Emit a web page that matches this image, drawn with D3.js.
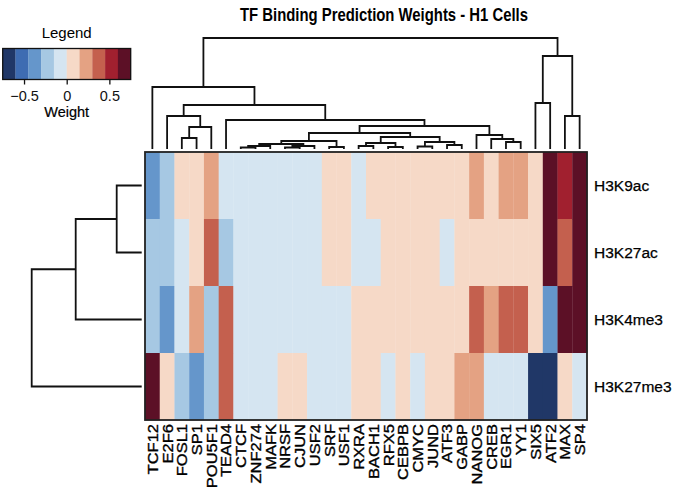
<!DOCTYPE html>
<html>
<head>
<meta charset="utf-8">
<script src="https://cdn.jsdelivr.net/npm/d3@7"></script>
<style>
  body { margin: 0; background: #fff; }
  text { font-family: "Liberation Sans", Arial, sans-serif; }
</style>
</head>
<body>
<div id="chart"></div>
<script>
// column (TF) names, in dendrogram order
var tfs = ["TCF12","E2F6","FOSL1","SP1","POU5F1","TEAD4","CTCF","ZNF274","MAFK","NRSF",
  "CJUN","USF2","SRF","USF1","RXRA","BACH1","RFX5","CEBPB","CMYC","JUND",
  "ATF3","GABP","NANOG","CREB","EGR1","YY1","SIX5","ATF2","MAX","SP4"];
var marks = ["H3K9ac","H3K27ac","H3K4me3","H3K27me3"];

// weights per histone mark, one per TF
var h3k9ac   = [-0.375,-0.225, 0.075, 0.075, 0.225,-0.075,-0.075,-0.075,-0.075,-0.075,
  -0.075,-0.075, 0.075, 0.075,-0.075, 0.075, 0.075, 0.075, 0.075, 0.075,
   0.075, 0.075, 0.225, 0.075, 0.225, 0.225, 0.075, 0.675, 0.525, 0.675];
var h3k27ac  = [-0.225,-0.225,-0.075, 0.075, 0.375,-0.225,-0.075,-0.075,-0.075,-0.075,
  -0.075,-0.075, 0.075, 0.075,-0.075,-0.075, 0.075, 0.075, 0.075, 0.075,
  -0.075, 0.075, 0.075, 0.075, 0.075, 0.075, 0.075, 0.675, 0.375, 0.675];
var h3k4me3  = [-0.225,-0.375,-0.075, 0.225,-0.225, 0.375,-0.075,-0.075,-0.075,-0.075,
  -0.075,-0.075,-0.075,-0.075, 0.075, 0.075, 0.075, 0.075, 0.075, 0.075,
   0.075, 0.075, 0.375, 0.225, 0.375, 0.375, 0.075,-0.375, 0.675, 0.675];
var h3k27me3 = [ 0.675, 0.075,-0.225,-0.375,-0.225, 0.375,-0.075,-0.075,-0.075, 0.075,
   0.075,-0.075,-0.075,-0.075, 0.075, 0.075,-0.075, 0.075,-0.075, 0.075,
   0.075, 0.225, 0.225,-0.075,-0.075,-0.075,-0.675,-0.675, 0.075,-0.075];
var weights = [h3k9ac, h3k27ac, h3k4me3, h3k27me3];

// dendrograms as [height, left, right]; a plain number is a leaf index
var colTree = [111,
  [62, 0,
    [44,
      [33, 1, [22, [11, 2, 3], 4]],
      [29, 5,
        [23,
          [16,
            [8, [5, [3, [1.5, 6, 7], 8], [3, [1.5, 9, 10], 11]], [2, 12, 13]],
            [12, [6, [3, 14, 15], [2, 16, 17]], [7, [2.5, 18, 19], [4, 20, 21]]]],
          [14, 22, [10, 23, [7, 24, 25]]]]]]],
  [93, [46, 26, 27], [33, 28, 29]]];
var rowTree = [110, [66, [25, 0, 1], 2], 3];

var legendTicks = [-0.5, 0, 0.5];
var palette = ["#203767","#3e6cb2","#6596cb","#a6c8e3","#d5e5f1",
               "#f6d9c7","#e4a283","#c4604e","#a1202f","#5c1026"];

var W = 678, H = 492;
var svg = d3.select("#chart").append("svg").attr("width", W).attr("height", H);

var x = d3.scaleBand().domain(d3.range(tfs.length)).range([145, 587]);
var y = d3.scaleBand().domain(d3.range(marks.length)).range([152, 420]);
var color = d3.scaleQuantize().domain([-0.75, 0.75]).range(palette);

// title
svg.append("text").attr("x", 384).attr("y", 21)
  .attr("text-anchor", "middle").attr("font-weight", "bold").attr("font-size", 17.5)
  .attr("transform", "translate(384,0) scale(0.85,1) translate(-384,0)")
  .text("TF Binding Prediction Weights - H1 Cells");

// heatmap cells
weights.forEach(function(row, r) {
  svg.append("g").selectAll("rect").data(row).enter().append("rect")
    .attr("x", function(d, i) { return x(i); })
    .attr("y", y(r))
    .attr("width", x.bandwidth() + 0.3)
    .attr("height", y.bandwidth() + 0.3)
    .attr("fill", function(d) { return color(d); });
});
svg.append("rect").attr("x", 145).attr("y", 152).attr("width", 442).attr("height", 268)
  .attr("fill", "none").attr("stroke", "#222").attr("stroke-width", 1.8);

// row labels
svg.append("g").selectAll("text").data(marks).enter().append("text")
  .attr("x", 594).attr("y", function(d, i) { return y(i) + y.bandwidth() / 2; })
  .attr("dy", "0.35em").attr("font-size", 15.5)
  .attr("stroke", "#000").attr("stroke-width", 0.25)
  .text(function(d) { return d; });

// column labels
svg.append("g").selectAll("text").data(tfs).enter().append("text")
  .attr("transform", function(d, i) {
    return "translate(" + (x(i) + x.bandwidth() / 2) + ",424) rotate(-90) scale(1.1,1)";
  })
  .attr("dy", "0.36em").attr("text-anchor", "end").attr("font-size", 15)
  .attr("stroke", "#000").attr("stroke-width", 0.35)
  .text(function(d) { return d; });

// dendrogram drawing: returns leaf-axis position of node
function drawTree(g, node, pos, hgt, vertical) {
  if (typeof node === "number") return { p: pos(node), h: 0 };
  var a = drawTree(g, node[1], pos, hgt, vertical);
  var b = drawTree(g, node[2], pos, hgt, vertical);
  var h = node[0];
  var pts = [[a.p, hgt(a.h)], [a.p, hgt(h)], [b.p, hgt(h)], [b.p, hgt(b.h)]];
  if (!vertical) pts = pts.map(function(q) { return [q[1], q[0]]; });
  g.append("path").attr("d", d3.line()(pts))
    .attr("fill", "none").attr("stroke", "#111").attr("stroke-width", 1.8);
  return { p: (a.p + b.p) / 2, h: h };
}
var gCol = svg.append("g");
drawTree(gCol, colTree, function(i) { return x(i) + x.bandwidth() / 2; },
  d3.scaleLinear().domain([0, 111]).range([149, 38]), true);
var gRow = svg.append("g");
drawTree(gRow, rowTree, function(i) { return y(i) + y.bandwidth() / 2; },
  d3.scaleLinear().domain([0, 110]).range([141.7, 31.7]), false);

// colour key
var lx = d3.scaleLinear().domain([-0.75, 0.75]).range([2.7, 130.7]);
var lg = svg.append("g");
lg.selectAll("rect").data(palette).enter().append("rect")
  .attr("x", function(d, i) { return lx(-0.75 + i * 0.15); })
  .attr("y", 48.5).attr("width", lx(0.15) - lx(0) + 0.2).attr("height", 31)
  .attr("fill", function(d) { return d; });
lg.append("rect").attr("x", 2.7).attr("y", 48.5).attr("width", 128).attr("height", 31)
  .attr("fill", "none").attr("stroke", "#111").attr("stroke-width", 1.3);
var axis = d3.axisBottom(lx).tickValues(legendTicks).tickSize(5)
  .tickFormat(function(d) { return d === 0 ? "0" : d3.format(".1f")(d).replace("-", "\u2212"); });
var ax = lg.append("g").attr("transform", "translate(0,79.5)").call(axis);
ax.select(".domain").remove();
ax.selectAll("line").attr("stroke", "#111").attr("stroke-width", 1.3);
ax.selectAll("text").attr("font-size", 14.5).attr("fill", "#111")
  .attr("font-family", "Liberation Sans, Arial, sans-serif").attr("dy", "0.9em");
lg.append("text").attr("x", 66.7).attr("y", 38).attr("text-anchor", "middle")
  .attr("font-size", 15).text("Legend");
lg.append("text").attr("x", 66.7).attr("y", 117).attr("text-anchor", "middle")
  .attr("font-size", 14.5).attr("stroke", "#000").attr("stroke-width", 0.2).text("Weight");
</script>
</body>
</html>
